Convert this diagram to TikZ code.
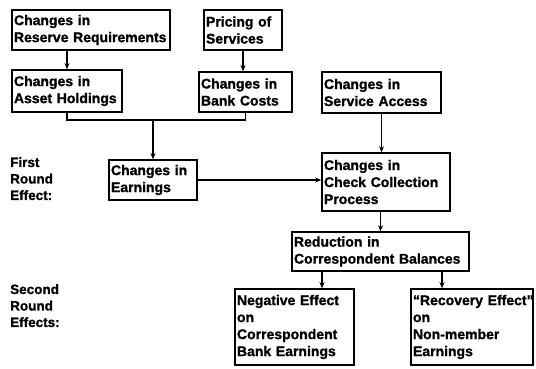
\documentclass[tikz,border=0pt]{standalone}
\usepackage{fontspec}
\setmainfont{Liberation Sans}[BoldFeatures={FakeBold=1.2}]
\usetikzlibrary{arrows.meta}
\hyphenpenalty=10000
\exhyphenpenalty=10000

\tikzset{
  box/.style={draw,line width=1.6pt,inner xsep=2pt,inner ysep=0pt,align=left,
    font=\bfseries\fontsize{14}{17}\selectfont},
  arr/.style={-{Stealth[length=6pt,width=5pt]},line width=1.4pt},
  lbl/.style={anchor=north west,align=left,inner sep=0pt,
    font=\bfseries\fontsize{13.5}{16.5}\selectfont}
}

\begin{document}
\begin{tikzpicture}[x=1pt,y=-1pt]
        \useasboundingbox (0,0) rectangle (536,368);
        \node [box,text width=154pt,minimum height=40pt] (reserve) at (91,30) {Changes in\\\mbox{Reserve Requirements}};
        \node [box,text width=74pt,minimum height=40pt] (pricing) at (243,30) {Pricing of\\Services};
        \node [box,text width=106pt,minimum height=42pt] (asset) at (67,91) {Changes in\\Asset Holdings};
        \node [box,text width=89pt,minimum height=40pt] (cost) at (245.5,92) {Changes in\\Bank Costs};
        \node [box,text width=115pt,minimum height=41pt] (access) at (381.5,92.5) {Changes in\\Service Access};
        \node [box,text width=84pt,minimum height=40pt] (earn) at (153,180) {Changes in\\Earnings};
        \node [box,text width=124pt,minimum height=58pt] (check) at (386,182) {Changes in\\Check Collection\\Process};
        \node [box,text width=173pt,minimum height=39pt] (reduce) at (380.5,251.5) {Reduction in\\\mbox{Correspondent Balances}};
        \node [box,text width=115pt,minimum height=76pt] (neg) at (294.5,327) {\mbox{Negative Effect}\\on\\Correspondent\\\mbox{Bank Earnings}};
        \node [box,text width=118pt,minimum height=76pt] (recov) at (472,327) {\mbox{``Recovery Effect''}\\on\\Non-member\\Earnings};
        \node [lbl] (first) at (10,157) {First\\Round\\Effect:};
        \node [lbl] (second) at (10,284) {Second\\Round\\Effects:};
        \coordinate (join) at (153,120);
        \coordinate (negin) at (322,271);
        \coordinate (recin) at (442,271);
        \draw[arr] (asset.north |- reserve.south) -- (asset.north);
        \draw[arr] (pricing.south) -- (pricing.south |- cost.north);
        \draw[line width=1.4pt] (asset.south) |- (join) -| (cost.south);
        \draw[arr] (join) -- (earn.north);
        \draw[arr] (earn.east) -- (earn.east -| check.west);
        \draw[arr] (access.south) -- (access.south |- check.north);
        \draw[arr] (reduce.north |- check.south) -- (reduce.north);
        \draw[arr] (negin) -- (negin |- neg.north);
        \draw[arr] (recin) -- (recin |- recov.north);
\end{tikzpicture}
\end{document}
